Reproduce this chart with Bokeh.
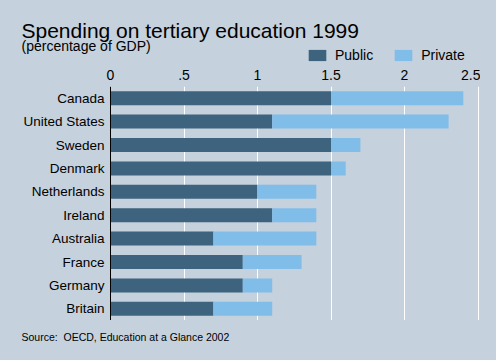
import numpy as np
from bokeh.plotting import figure
from bokeh.layouts import column
from bokeh.models import (Label, Legend, LegendItem, FixedTicker, FactorRange,
                          Range1d, ColumnDataSource, Span)
from bokeh.core.properties import value
from bokeh.embed import file_html
from bokeh.resources import INLINE

countries = ["Canada", "United States", "Sweden", "Denmark", "Netherlands",
             "Ireland", "Australia", "France", "Germany", "Britain"]
public = [1.5, 1.1, 1.5, 1.5, 1.0, 1.1, 0.7, 0.9, 0.9, 0.7]
private = [0.9, 1.2, 0.2, 0.1, 0.4, 0.3, 0.7, 0.4, 0.2, 0.4]
tick_values = [0, 0.5, 1, 1.5, 2, 2.5]
tick_labels = ["0", ".5", "1", "1.5", "2", "2.5"]
series_names = ["Public", "Private"]

BG = "#c5d1dc"
DARK = "#3e637e"
LIGHT = "#80bde9"
FONT = "Liberation Sans"


def blank(height):
    f = figure(width=480, height=height, x_range=Range1d(0, 1), y_range=Range1d(0, 1),
               x_axis_type=None, y_axis_type=None, title=None,
               output_backend="svg", toolbar_location=None,
               min_border_left=0, min_border_right=0,
               min_border_top=0, min_border_bottom=0)
    f.background_fill_color = BG
    f.border_fill_color = BG
    f.outline_line_color = None
    f.xgrid.visible = False
    f.ygrid.visible = False
    return f


# ---- header: title, subtitle, legend
head = blank(63)
# legend-only renderers: one undrawable (NaN) row so the legend shows their swatch
key_src = ColumnDataSource(dict(y=np.array([np.nan]), right=np.array([np.nan])))
h_pub = head.hbar(y="y", right="right", height=1, color=DARK, line_color=None, source=key_src)
h_pri = head.hbar(y="y", right="right", height=1, color=LIGHT, line_color=None, source=key_src)
legend = Legend(items=[LegendItem(label=series_names[0], renderers=[h_pub]),
                       LegendItem(label=series_names[1], renderers=[h_pri])],
                orientation="horizontal", location=(306, 0),
                glyph_width=22, glyph_height=14, label_height=14,
                label_standoff=7, spacing=19, padding=0, margin=0,
                border_line_alpha=0, background_fill_alpha=0,
                label_text_font=FONT, label_text_font_size="14px",
                label_text_color="black")
head.add_layout(legend, "center")
head.add_layout(Label(x=21, y=29.5, x_units="canvas", y_units="canvas",
                      text="Spending on tertiary education 1999",
                      text_font=FONT, text_font_size="21px", text_color="black",
                      text_baseline="alphabetic"))
head.add_layout(Label(x=21, y=45, x_units="canvas", y_units="canvas",
                      text="(percentage of GDP)",
                      text_font=FONT, text_font_size="14px", text_color="black",
                      text_baseline="alphabetic"))

# ---- main chart (frame spans the full width; 0 sits 110px from the left)
source = ColumnDataSource(dict(country=countries, public=public, private=private))

p = figure(width=480, height=257,
           y_range=FactorRange(factors=list(reversed(countries)), range_padding=0),
           x_range=Range1d(-110 / 147, 370 / 147),
           x_axis_location="above", title=None,
           output_backend="svg", toolbar_location=None,
           min_border_left=0, min_border_right=0,
           min_border_top=23, min_border_bottom=0)

p.background_fill_color = BG
p.border_fill_color = BG
p.outline_line_color = None

p.hbar_stack(["public", "private"], y="country", height=0.6,
             color=[DARK, LIGHT], line_color=None, source=source)

# category labels, right-aligned against the axis line at 0
p.text(x=0, y="country", text="country", source=source, x_offset=-6,
       text_align="right", text_baseline="middle",
       text_font=value(FONT), text_font_size="13.5px", text_color="black")
p.add_layout(Span(location=0, dimension="height", line_color="black", line_width=1))
p.yaxis.visible = False

xa = p.xaxis[0]
xa.ticker = FixedTicker(ticks=tick_values)
xa.major_label_overrides = dict(zip(tick_values, tick_labels))
xa.axis_line_color = None
xa.major_tick_line_color = None
xa.major_tick_out = 0
xa.major_tick_in = 0
xa.minor_tick_line_color = None
xa.minor_tick_out = 0
xa.major_label_text_font = FONT
xa.major_label_text_font_size = "14px"
xa.major_label_text_color = "black"
xa.major_label_standoff = 7

p.xgrid.grid_line_color = "white"
p.xgrid.grid_line_width = 1
p.ygrid.grid_line_color = None

# ---- footer: source
foot = blank(24)
foot.add_layout(Label(x=21, y=16.5, x_units="canvas", y_units="canvas",
                      text="Source:\u00a0 OECD, Education at a Glance 2002",
                      text_font=FONT, text_font_size="10.5px", text_color="black",
                      text_baseline="alphabetic"))

layout = column(head, p, foot, spacing=0)

html = file_html(layout, INLINE)
html = html.replace("<body>", '<body style="background:%s">' % BG)
open("out.html", "w").write(html)
